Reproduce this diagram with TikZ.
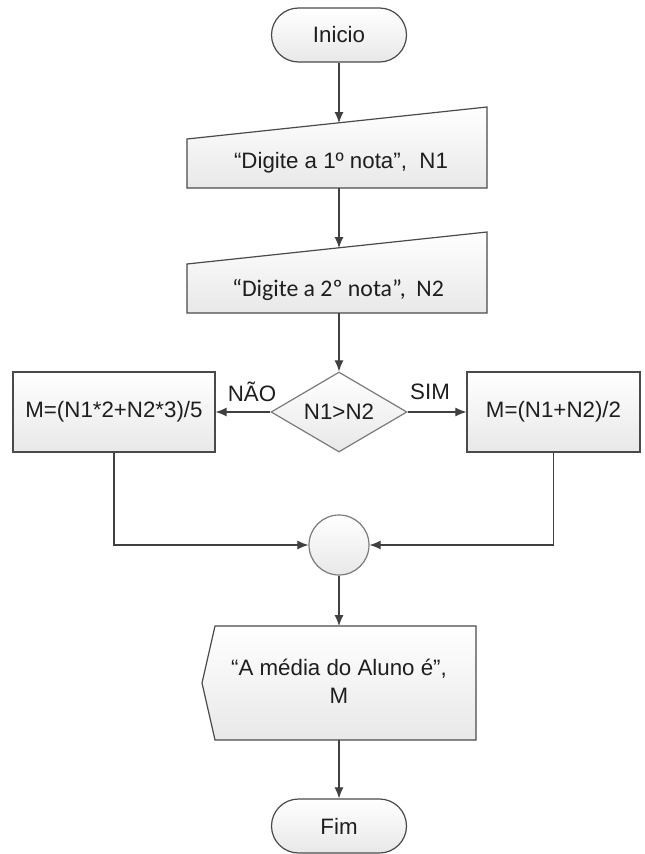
\documentclass[tikz,border=0pt]{standalone}
\usepackage{fontspec}
\setmainfont{Liberation Sans}
\newfontfamily\calibri{Carlito}
\usetikzlibrary{arrows.meta,shapes.geometric,shapes.misc}
\definecolor{linec}{HTML}{404040}
\definecolor{edgec}{HTML}{4A4A4A}
\definecolor{softedge}{HTML}{7A7A7A}
\definecolor{txt}{HTML}{1E1E1E}
\begin{document}
\begin{tikzpicture}[x=1pt,y=-1pt,
  every node/.style={font=\fontsize{22.3}{28}\selectfont, text=txt},
  shapefill/.style={draw=edgec, line width=1.2pt, top color=white, bottom color=black!9},
  term/.style={shapefill, rounded rectangle, minimum width=135pt, minimum height=54pt, inner sep=0pt},
  procbox/.style={shapefill, rectangle, minimum height=80pt, inner sep=0pt},
  conn/.style={draw=linec, line width=1.1pt, -{Latex[length=11pt,width=9pt]}}]
\useasboundingbox (0,0) rectangle (645,854);
% terminators
\node[term] (start) at (339,35) {Inicio};
\node[term] (stop) at (339,826) {Fim};
% manual input 1
\path[shapefill] (187,188) -- (187,139) -- (487,107) -- (487,188) -- cycle;
\node (in1) at (341,163) {“Digite a 1º nota”,\ \ N1};
\coordinate (in1top) at (339,123);
\coordinate (in1bot) at (339,188);
% manual input 2
\path[shapefill] (187,313) -- (187,264) -- (487,232) -- (487,313) -- cycle;
\node (in2) at (338,290) {\calibri\fontsize{23.8}{28}\selectfont “Digite a 2º nota”,\ \ N2};
\coordinate (in2top) at (339,248);
\coordinate (in2bot) at (339,313);
% decision
\node[diamond, shapefill, draw=softedge, aspect=1.7, minimum width=136pt, minimum height=80pt, inner sep=0pt] (dec) at (339,412) {N1>N2};
% process boxes
\node[procbox, minimum width=202pt] (left) at (114,412) {M=(N1*2+N2*3)/5};
\node[procbox, minimum width=173pt] (right) at (553.5,412) {M=(N1+N2)/2};
\node (nao) at (252,392) {NÃO};
\node (sim) at (430,392) {SIM};
% connector circle
\node[circle, shapefill, draw=softedge, minimum size=60pt, inner sep=0pt] (join) at (339,545) {};
% display
\path[shapefill] (215,626) -- (476,626) -- (476,740) -- (215,740) -- (202,683) -- cycle;
\node[align=center] (out) at (339,681) {“A média do Aluno é”,\\M};
\coordinate (outtop) at (339,626);
\coordinate (outbot) at (339,740);
% connectors
\draw[conn] (start.south) -- (in1top);
\draw[conn] (in1bot) -- (in2top);
\draw[conn] (in2bot) -- (dec.north);
\draw[conn] (dec.west) -- (left.east);
\draw[conn] (dec.east) -- (right.west);
\draw[conn] (left.south) |- (join.west);
\draw[conn] (right.south) |- (join.east);
\draw[conn] (join.south) -- (outtop);
\draw[conn] (outbot) -- (stop.north);
\end{tikzpicture}
\end{document}
